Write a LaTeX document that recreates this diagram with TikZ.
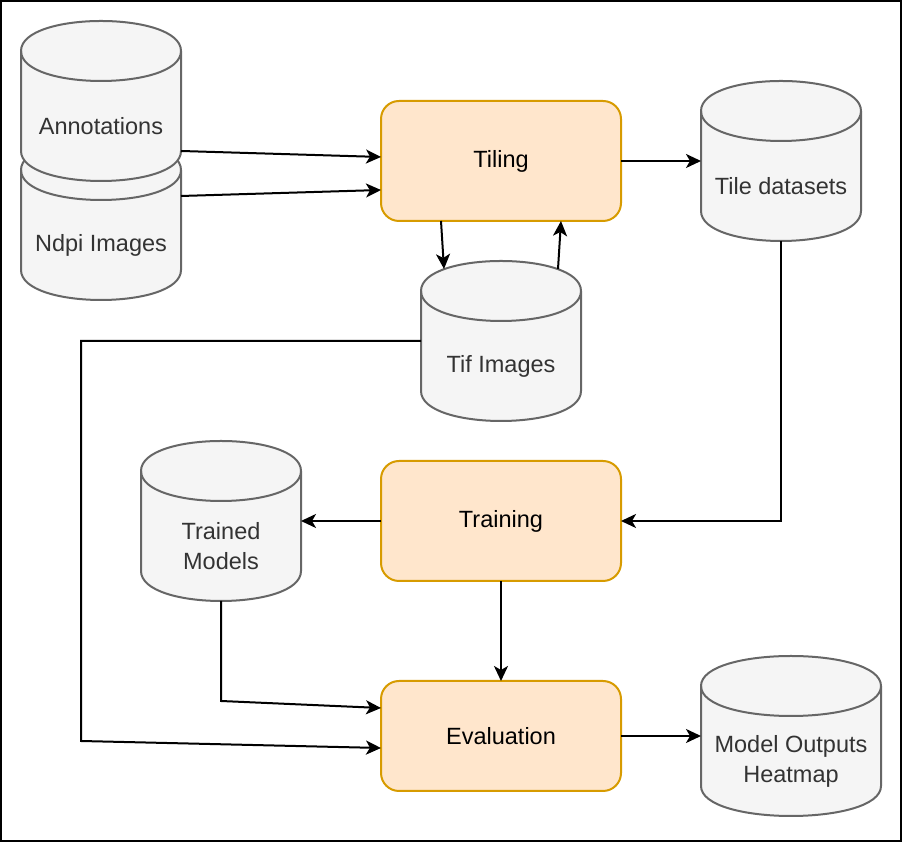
\documentclass[tikz,border=0pt]{standalone}
\usepackage{fontspec}
\setmainfont{Liberation Sans}
\usetikzlibrary{arrows.meta, backgrounds, calc, positioning}

\definecolor{storefill}{HTML}{F5F5F5}
\definecolor{storeline}{HTML}{666666}
\definecolor{storetext}{HTML}{333333}
\definecolor{stepfill}{HTML}{FFE6CC}
\definecolor{stepline}{HTML}{D79B00}

% cylinder drawn round a named store node
\newcommand{\drum}[1]{%
  \draw [storeline, fill=storefill, line width=2pt]
    let \p1=(#1.north west), \p2=(#1.south east) in
    (\x1,\y1-30pt) .. controls (\x1,\y1+10pt) and (\x2,\y1+10pt) .. (\x2,\y1-30pt)
    -- (\x2,\y2+30pt) .. controls (\x2,\y2-10pt) and (\x1,\y2-10pt) .. (\x1,\y2+30pt) -- cycle;
  \draw [storeline, line width=2pt]
    let \p1=(#1.north west), \p2=(#1.south east) in
    (\x1,\y1-30pt) .. controls (\x1,\y1-70pt) and (\x2,\y1-70pt) .. (\x2,\y1-30pt);}

\tikzset{
  store/.style={minimum width=160pt, minimum height=160pt, inner sep=0pt, outer sep=0pt},
  storelabel/.style={text=storetext, align=center, yshift=-25pt, font=\fontsize{23.5}{30}\selectfont},
  stepbox/.style={draw=stepline, fill=stepfill, line width=2pt, rounded corners=18pt, outer sep=0pt,
    minimum width=240pt, minimum height=120pt, font=\fontsize{23.5}{30}\selectfont},
  flow/.style={line width=2pt, -{Stealth[length=15pt, width=14pt, inset=4pt]}}
}

\begin{document}
\begin{tikzpicture}[x=1pt, y=1pt]
        \useasboundingbox (0,0) rectangle (902,842);
        \draw [line width=2pt] (1,1) rectangle (901,841);

        % steps
        \node [stepbox] (tiling) at (501,681) {Tiling};
        \node [store, right=80pt of tiling, label={[storelabel]center:Tile datasets}] (tiles) {};
        \node [store, below=40pt of tiling, label={[storelabel]center:Tif Images}] (tif) {};
        \node [stepbox, below=40pt of tif] (training) {Training};
        \node [store, left=80pt of training, label={[storelabel]center:{Trained\\Models}}] (models) {};
        \node [stepbox, minimum height=110pt, below=100pt of training] (evaluation) {Evaluation};
        \node [store, minimum width=180pt, right=80pt of evaluation, label={[storelabel]center:{Model Outputs\\Heatmap}}] (outputs) {};

        % inputs
        \node [store, label={[storelabel]center:Ndpi Images}] (ndpi) at (101,622) {};
        \node [store, label={[storelabel]center:Annotations}] (annot) at (101,741) {};

        \begin{scope}[on background layer]
            \drum{ndpi} \drum{annot} \drum{tiles} \drum{tif} \drum{models} \drum{outputs}
        \end{scope}

        \draw [flow] ([yshift=-50pt]annot.east) -- ([yshift=4pt]tiling.west);
        \draw [flow] ([yshift=24pt]ndpi.east) -- ([yshift=-29pt]tiling.west);
        \draw [flow] (tiling) -- (tiles);
        \draw [flow] ([xshift=-60pt]tiling.south) -- ([xshift=-57pt, yshift=-8pt]tif.north);
        \draw [flow] ([xshift=57pt, yshift=-8pt]tif.north) -- ([xshift=60pt]tiling.south);
        \draw [flow] (tif.west) -- ++(-340pt,0) -- ++(0,-400pt) -- ([yshift=-12pt]evaluation.west);
        \draw [flow] (tiles.south) |- (training.east);
        \draw [flow] (training) -- (models);
        \draw [flow] (training) -- (evaluation);
        \draw [flow] (models.south) -- ++(0,-100pt) -- ([yshift=28pt]evaluation.west);
        \draw [flow] (evaluation) -- (outputs);
    \end{tikzpicture}
\end{document}
